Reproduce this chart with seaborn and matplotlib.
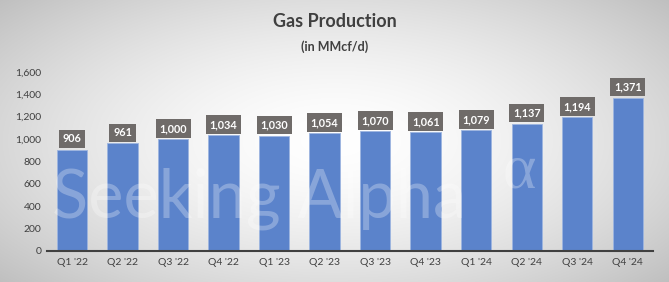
import matplotlib
matplotlib.use("Agg")
import matplotlib.pyplot as plt
import seaborn as sns
import numpy as np
import pandas as pd

quarters = ["Q1 '22", "Q2 '22", "Q3 '22", "Q4 '22", "Q1 '23", "Q2 '23",
            "Q3 '23", "Q4 '23", "Q1 '24", "Q2 '24", "Q3 '24", "Q4 '24"]
production = [906, 961, 1000, 1034, 1030, 1054, 1070, 1061, 1079, 1137, 1194, 1371]
yticks = [0, 200, 400, 600, 800, 1000, 1200, 1400, 1600]

sns.set_theme(style="white")
plt.rcParams['font.family'] = ['Lato', 'DejaVu Sans']

W, H = 669, 282
fig = plt.figure(figsize=(W / 100, H / 100), dpi=100)

# radial gradient background
bg = fig.add_axes([0, 0, 1, 1], zorder=0)
yy, xx = np.mgrid[-1:1:282j, -1:1:669j]
r = np.sqrt((xx * 1.0) ** 2 + (yy * 0.9) ** 2)
r = np.clip(r / 1.35, 0, 1)
val = 1.0 - 0.25 * r ** 1.6
img = np.dstack([val, val, val])
bg.imshow(img, aspect='auto', extent=[0, 1, 0, 1])
bg.axis('off')

ax = fig.add_axes([0.070, 0.110, 0.906, 0.635], zorder=1)
ax.patch.set_alpha(0)

df = pd.DataFrame({"quarter": quarters, "value": production})
sns.barplot(data=df, x="quarter", y="value", color="#5B83CB", saturation=1,
            width=0.6, ax=ax, edgecolor="#9DB5E0", linewidth=0.6)

ax.set_ylim(0, 1600)
ax.set_xlim(-0.5, len(quarters) - 0.5)
ax.set_yticks(yticks)
ax.set_yticklabels([f"{v:,}" for v in yticks], fontsize=7.5, color="#404040")
ax.tick_params(axis='x', labelsize=7.5, colors="#404040", length=0, pad=5)
ax.tick_params(axis='y', length=0, pad=4)
ax.set_xlabel("")
ax.set_ylabel("")
for s in ["top", "right", "left"]:
    ax.spines[s].set_visible(False)
ax.spines["bottom"].set_color("#404040")
ax.spines["bottom"].set_linewidth(1.5)
ax.grid(False)

for i, v in enumerate(production):
    ax.text(i, v + 95, f"{v:,}", ha="center", va="center", fontsize=7.8,
            fontweight="bold", color="white",
            bbox=dict(boxstyle="square,pad=0.35", fc="#6F6B69", ec="none"))

fig.text(0.5, 0.925, "Gas Production", ha="center", va="center",
         fontsize=13, fontweight="bold", color="#404040")
fig.text(0.5, 0.835, "(in MMcf/d)", ha="center", va="center",
         fontsize=9, fontweight="bold", color="#404040")

# watermark
fig.text(52 / W, 1 - 217 / H, "Seeking Alpha", ha="left", va="baseline",
         fontsize=48, color="white", alpha=0.28, fontweight="normal",
         zorder=5)
fig.text(503 / W, 1 - 188 / H, "\u03B1", ha="left", va="baseline",
         fontsize=46, color="white", alpha=0.28, fontweight="normal",
         family=["Liberation Serif", "DejaVu Serif"], zorder=5)

fig.savefig("out.png", dpi=100)
